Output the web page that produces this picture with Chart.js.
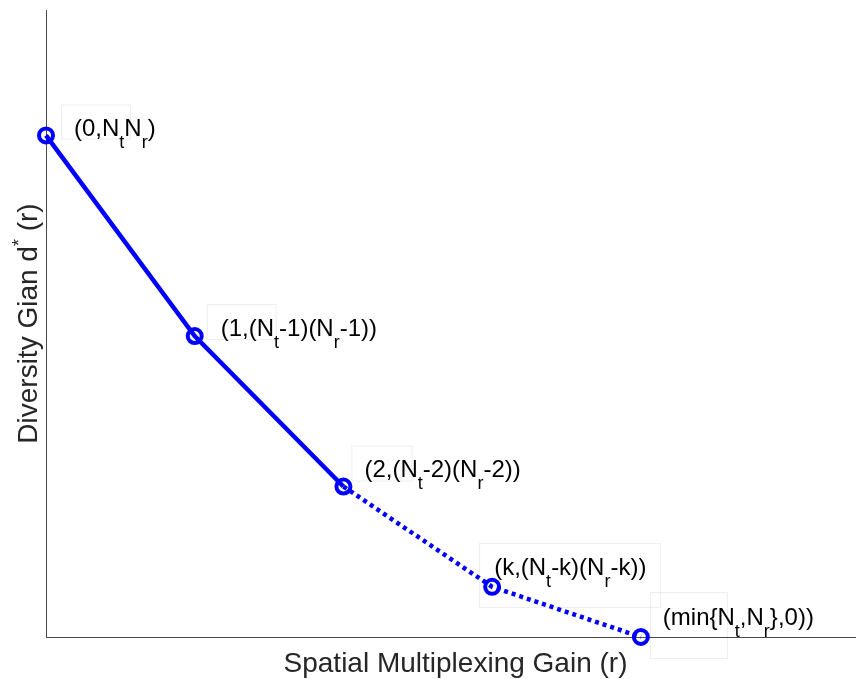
<!DOCTYPE html>
<html>
<head>
<meta charset="utf-8">
<script src="https://cdn.jsdelivr.net/npm/chart.js@4/dist/chart.umd.min.js"></script>
<style>
  html, body { margin: 0; padding: 0; background: #ffffff; overflow: hidden; }
  #wrap { width: 857px; height: 679px; }
  canvas { display: block; }
</style>
</head>
<body>
<div id="wrap"><canvas id="chart" width="857" height="679"></canvas></div>
<script>
// Diversity–multiplexing tradeoff curve: corner points of the piecewise-linear curve
const gainR = [0, 1, 2, 3, 4];            // spatial multiplexing gain r
const diversity = [10, 6, 3, 1, 0];       // diversity gain d*(r)
const cornerLabels = [
  '(0,N_tN_r)',
  '(1,(N_t-1)(N_r-1))',
  '(2,(N_t-2)(N_r-2))',
  '(k,(N_t-k)(N_r-k))',
  '(min{N_t,N_r},0))'
];
// label placement relative to each corner point (pixels): text start / baseline, and the faint text box
const labelOffsets = [
  { tx: 28, ty: 1,   box: [15, -31, 69, 34] },
  { tx: 26, ty: 0,   box: [12, -32, 69, 35] },
  { tx: 21, ty: -10, box: [8, -41, 60, 35] },
  { tx: 2,  ty: -12, box: [-13, -44, 181, 64] },
  { tx: 22, ty: -12, box: [9, -45, 77, 66] }
];
const xAxisTitle = 'Spatial Multiplexing Gain (r)';
const yAxisTitle = 'Diversity Gian d^* (r)';

const FONT = "'Liberation Sans', Arial, Helvetica, sans-serif";
const TEXT_COLOR = '#262626';

// split "N_t" / "d^*" style strings into plain, subscript and superscript runs
function parseRich(text) {
  const runs = [];
  let i = 0;
  while (i < text.length) {
    const c = text[i];
    if (c === '_' || c === '^') {
      runs.push({ t: text[i + 1], k: c });
      i += 2;
    } else {
      let j = i;
      while (j < text.length && text[j] !== '_' && text[j] !== '^') j++;
      runs.push({ t: text.slice(i, j), k: '' });
      i = j;
    }
  }
  return runs;
}

function richWidth(ctx, runs, size, subSize) {
  let w = 0;
  for (const r of runs) {
    ctx.font = (r.k ? subSize : size) + 'px ' + FONT;
    w += ctx.measureText(r.t).width;
  }
  return w;
}

function drawRich(ctx, text, x, y, size, subSize, subShift, supShift) {
  const runs = parseRich(text);
  ctx.textBaseline = 'alphabetic';
  ctx.textAlign = 'left';
  let cx = x;
  for (const r of runs) {
    ctx.font = (r.k ? subSize : size) + 'px ' + FONT;
    let dy = 0;
    if (r.k === '_') dy = subShift;
    if (r.k === '^') dy = -supShift;
    ctx.fillText(r.t, cx, y + dy);
    cx += ctx.measureText(r.t).width;
  }
}

const annotations = {
  id: 'annotations',
  afterDatasetsDraw(chart) {
    const { ctx, chartArea } = chart;
    const xs = chart.scales.x, ys = chart.scales.y;
    ctx.save();
    // corner labels with faint text boxes
    gainR.forEach((r, i) => {
      const px = xs.getPixelForValue(r);
      const py = ys.getPixelForValue(diversity[i]);
      const o = labelOffsets[i];
      ctx.strokeStyle = 'rgba(0,0,0,0.07)';
      ctx.lineWidth = 1;
      ctx.strokeRect(px + o.box[0] + 0.5, py + o.box[1] + 0.5, o.box[2], o.box[3]);
      ctx.fillStyle = '#000000';
      drawRich(ctx, cornerLabels[i], px + o.tx, py + o.ty, 24, 18, 12, 0);
    });

    // axis titles
    ctx.fillStyle = TEXT_COLOR;
    const xRuns = parseRich(xAxisTitle);
    const xw = richWidth(ctx, xRuns, 28, 18);
    drawRich(ctx, xAxisTitle, (chartArea.left + chartArea.right) / 2 - xw / 2 + 5, chartArea.bottom + 35, 28, 18, 0, 0);

    const yRuns = parseRich(yAxisTitle);
    const yw = richWidth(ctx, yRuns, 28, 18);
    ctx.translate(chartArea.left - 9, (chartArea.top + chartArea.bottom) / 2);
    ctx.rotate(-Math.PI / 2);
    drawRich(ctx, yAxisTitle, -yw / 2, 0, 28, 18, 0, 12);
    ctx.restore();
  }
};

new Chart(document.getElementById('chart'), {
  type: 'line',
  data: {
    datasets: [{
      data: gainR.map((r, i) => ({ x: r, y: diversity[i] })),
      borderColor: '#0000ff',
      borderWidth: 4.5,
      borderCapStyle: 'butt',
      pointStyle: 'circle',
      pointRadius: 7,
      pointBorderWidth: 4,
      pointBorderColor: '#0000ff',
      pointBackgroundColor: 'rgba(0,0,0,0)',
      pointHoverRadius: 7,
      tension: 0,
      fill: false,
      clip: false,
      segment: {
        // measured part solid, extrapolated part dotted
        borderDash: ctx => ctx.p0DataIndex >= 2 ? [4, 4] : undefined
      }
    }]
  },
  options: {
    responsive: false,
    animation: false,
    events: [],
    layout: { autoPadding: false, padding: { top: 10, right: 2, left: 0, bottom: 0 } },
    plugins: { legend: { display: false }, tooltip: { enabled: false } },
    scales: {
      x: {
        type: 'linear', min: 0, max: 5.44,
        grid: { display: false, drawTicks: false },
        ticks: { display: false },
        border: { display: true, color: '#4a4a4a', width: 1 },
        afterFit: s => { s.height = 42; }
      },
      y: {
        type: 'linear', min: 0, max: 12.5,
        grid: { display: false, drawTicks: false },
        ticks: { display: false },
        border: { display: true, color: '#4a4a4a', width: 1 },
        afterFit: s => { s.width = 46; }
      }
    }
  },
  plugins: [annotations]
});
</script>
</body>
</html>
